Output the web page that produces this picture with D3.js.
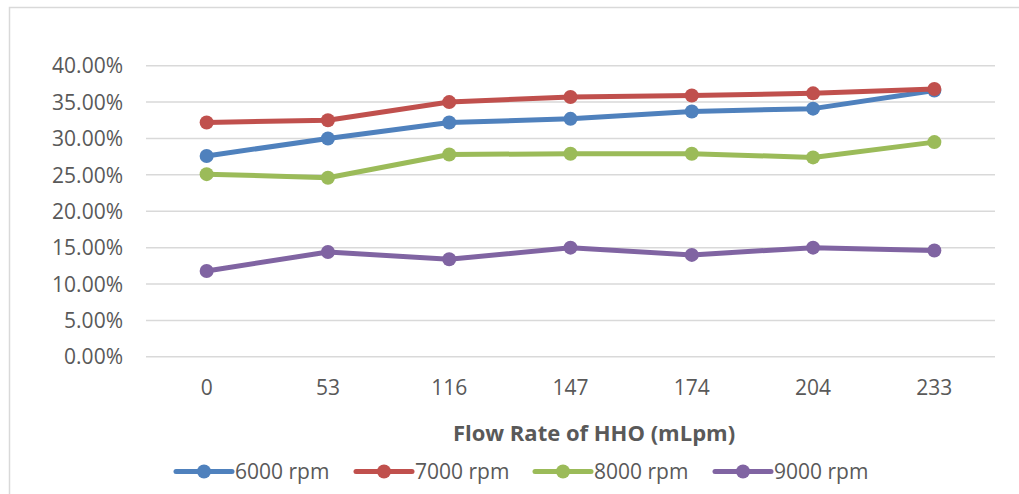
<!DOCTYPE html>
<html>
<head>
<meta charset="utf-8">
<script src="https://cdn.jsdelivr.net/npm/d3@7"></script>
<style>
  html, body { margin: 0; padding: 0; background: #ffffff; }
  svg { display: block; }
  text { font-family: "Open Sans", "Noto Sans", sans-serif; fill: #595959; }
</style>
</head>
<body>
<svg id="chart" width="1019" height="494"></svg>
<script>
// ---- data ----
const categories = ["0", "53", "116", "147", "174", "204", "233"];
const seriesNames = ["6000 rpm", "7000 rpm", "8000 rpm", "9000 rpm"];
const rpm6000 = [0.276, 0.300, 0.322, 0.327, 0.337, 0.341, 0.366];
const rpm7000 = [0.322, 0.325, 0.350, 0.357, 0.359, 0.362, 0.368];
const rpm8000 = [0.251, 0.246, 0.278, 0.279, 0.279, 0.274, 0.295];
const rpm9000 = [0.118, 0.144, 0.134, 0.150, 0.140, 0.150, 0.146];
const yTickValues = [0, 0.05, 0.10, 0.15, 0.20, 0.25, 0.30, 0.35, 0.40];
const xTitle = "Flow Rate of HHO (mLpm)";
const colors = ["#4F81BD", "#C0504D", "#9BBB59", "#8064A2"];

const series = [rpm6000, rpm7000, rpm8000, rpm9000].map((vals, i) => ({
  name: seriesNames[i], color: colors[i], values: vals
}));

const svg = d3.select("#chart");

// chart border
svg.append("rect")
  .attr("x", 9.5).attr("y", 7.5)
  .attr("width", 1100).attr("height", 600)
  .attr("fill", "none").attr("stroke", "#D9D9D9").attr("stroke-width", 1.5);

const plot = { left: 146, right: 995, top: 65.7, bottom: 356.8 };

const x = d3.scaleBand().domain(categories).range([plot.left, plot.right]);
const xc = c => x(c) + x.bandwidth() / 2;
const y = d3.scaleLinear().domain([0, 0.4]).range([plot.bottom, plot.top]);

// gridlines
svg.append("g").selectAll("line").data(yTickValues).join("line")
  .attr("x1", plot.left).attr("x2", plot.right)
  .attr("y1", d => y(d)).attr("y2", d => y(d))
  .attr("stroke", "#D9D9D9").attr("stroke-width", 1.5);

// y axis labels
const yAxis = d3.axisLeft(y).tickValues(yTickValues)
  .tickFormat(d3.format(".2%")).tickSize(0).tickPadding(0);
const yg = svg.append("g").attr("transform", `translate(123,0)`).call(yAxis);
yg.select(".domain").remove();
yg.selectAll("text").style("font-size", "21px").attr("fill", "#595959")
  .style("font-family", "'Open Sans', sans-serif").attr("dy", "0.34em");

// x axis labels
const xAxis = d3.axisBottom(x).tickSize(0).tickPadding(0);
const xg = svg.append("g").attr("transform", `translate(0,${plot.bottom})`).call(xAxis);
xg.select(".domain").remove();
xg.selectAll("text").style("font-size", "21px").attr("fill", "#595959")
  .style("font-family", "'Open Sans', sans-serif").attr("y", 38.5).attr("dy", "0");

// x title
svg.append("text")
  .attr("x", 594).attr("y", 441)
  .attr("text-anchor", "middle")
  .style("font-size", "22px").style("font-weight", "bold")
  .text(xTitle);

// lines
const line = d3.line().x((d, i) => xc(categories[i])).y(d => y(d));
const sg = svg.append("g").selectAll("g").data(series).join("g");
sg.append("path")
  .attr("d", d => line(d.values))
  .attr("fill", "none").attr("stroke", d => d.color)
  .attr("stroke-width", 5).attr("stroke-linejoin", "round").attr("stroke-linecap", "round");
sg.selectAll("circle").data(d => d.values.map(v => ({ v, color: d.color }))).join("circle")
  .attr("cx", (d, i) => xc(categories[i]))
  .attr("cy", d => y(d.v))
  .attr("r", 7)
  .attr("fill", d => d.color);

// legend
const legendX = [176, 356, 535, 715];
const ly = 471.5;
const lg = svg.append("g").selectAll("g").data(series).join("g")
  .attr("transform", (d, i) => `translate(${legendX[i]},${ly})`);
lg.append("line").attr("x1", 0).attr("x2", 56).attr("y1", 0).attr("y2", 0)
  .attr("stroke", d => d.color).attr("stroke-width", 5).attr("stroke-linecap", "round");
lg.append("circle").attr("cx", 28).attr("cy", 0).attr("r", 7).attr("fill", d => d.color);
lg.append("text").attr("x", 59).attr("y", 0).attr("dy", "0.36em")
  .style("font-size", "21px").text(d => d.name);
</script>
</body>
</html>
